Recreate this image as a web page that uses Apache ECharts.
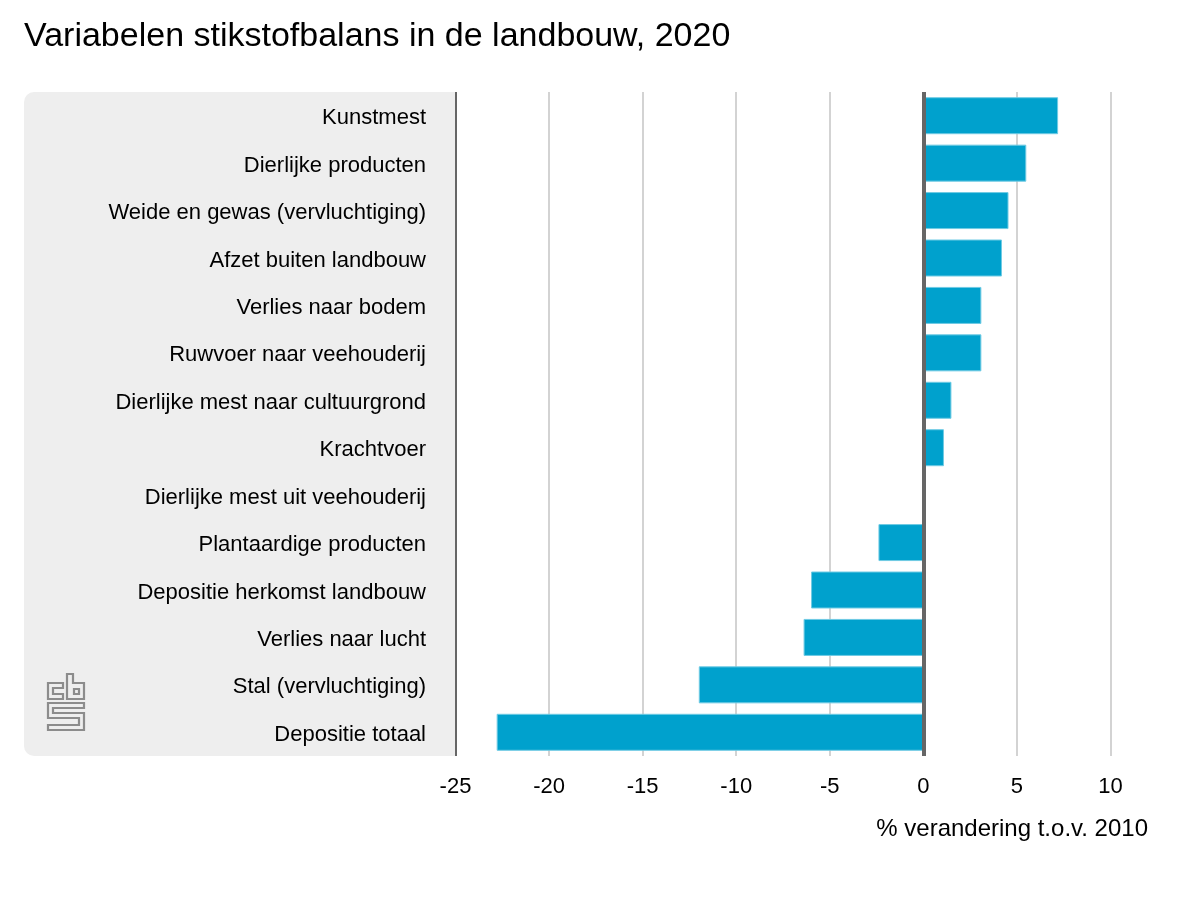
<!DOCTYPE html>
<html>
<head>
<meta charset="utf-8">
<script src="https://cdn.jsdelivr.net/npm/echarts@6/dist/echarts.min.js"></script>
<style>
    html, body {margin: 0; padding: 0; background: #fff;}
    #chart {width: 1200px; height: 900px;}
</style>
</head>
<body>
<div id="chart"></div>
<script>
    const FONT = "Liberation Sans";
    const categories = ["Kunstmest", "Dierlijke producten", "Weide en gewas (vervluchtiging)", "Afzet buiten landbouw",
        "Verlies naar bodem", "Ruwvoer naar veehouderij", "Dierlijke mest naar cultuurgrond", "Krachtvoer",
        "Dierlijke mest uit veehouderij", "Plantaardige producten", "Depositie herkomst landbouw",
        "Verlies naar lucht", "Stal (vervluchtiging)", "Depositie totaal"];
    const changes = [7.2, 5.5, 4.55, 4.2, 3.1, 3.1, 1.5, 1.1, 0, -2.4, -6, -6.4, -12, -22.8];
    const titleText = "Variabelen stikstofbalans in de landbouw, 2020";
    const axisTitle = "% verandering t.o.v. 2010";

    let chart = echarts.init(document.getElementById("chart"), null, {renderer: "canvas"});

    // cbs logo, outline only
    const logoStyle = {fill: "none", stroke: "#8c8c8c", lineWidth: 2.2};
    const logoShapes = [
        [[63, 683], [48, 683], [48, 699], [63, 699], [63, 694], [53, 694], [53, 688], [63, 688]],
        [[67, 674], [73, 674], [73, 683], [84, 683], [84, 699], [67, 699]],
        [[74, 689], [79, 689], [79, 694], [74, 694]],
        [[48, 703], [84, 703], [84, 708], [53, 708], [53, 713], [84, 713], [84, 730], [48, 730], [48, 725], [79, 725], [79, 718], [48, 718]]
    ];

    chart.setOption({
        animation: false,
        title: {
            text: titleText,
            left: 24,
            top: 20,
            padding: 0,
            textStyle: {fontFamily: FONT, fontSize: 34, fontWeight: "normal", color: "#000"}
        },
        grid: {left: 455.5, right: 89.5, top: 92, bottom: 144, containLabel: false},
        xAxis: {
            type: "value",
            min: -25,
            max: 10,
            interval: 5,
            axisLine: {show: false},
            axisTick: {show: false},
            axisLabel: {margin: 20, fontFamily: FONT, fontSize: 22, color: "#000"},
            splitLine: {lineStyle: {color: "#c4c4c4", width: 1.5}}
        },
        yAxis: [{
            type: "category",
            inverse: true,
            data: categories,
            axisLine: {onZero: false, lineStyle: {color: "#666", width: 2, cap: "butt"}},
            axisTick: {show: false},
            axisLabel: {
                margin: 29.5,
                formatter: "{a|{value}}",
                rich: {a: {padding: [5, 0, 0, 0], fontFamily: FONT, fontSize: 22, color: "#000"}}
            }
        }, {
            type: "category",
            inverse: true,
            data: categories,
            position: "left",
            z: 5,
            axisLine: {onZero: true, lineStyle: {color: "#666", width: 4, cap: "butt"}},
            axisTick: {show: false},
            axisLabel: {show: false}
        }],
        series: [{
            type: "bar",
            yAxisIndex: 0,
            data: changes,
            barWidth: 37,
            itemStyle: {color: "#00a1cd", borderColor: "#6fcbe4", borderWidth: 1}
        }],
        graphic: [{
            type: "rect",
            z: -10,
            shape: {x: 24, y: 92, width: 431, height: 664, r: [10, 0, 0, 10]},
            style: {fill: "#eeeeee"}
        }].concat(logoShapes.map(pts => ({
            type: "polygon",
            z: -5,
            shape: {points: pts},
            style: logoStyle
        }))).concat([{
            type: "text",
            right: 52,
            top: 817,
            style: {text: axisTitle, fontFamily: FONT, fontSize: 24, fill: "#000"}
        }])
    });
</script>
</body>
</html>
